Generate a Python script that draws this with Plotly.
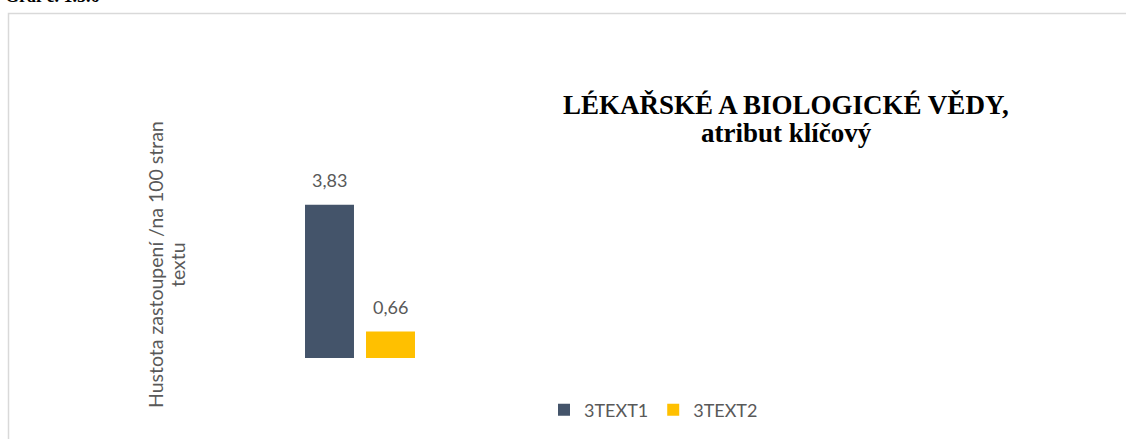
import plotly.graph_objects as go

W, H = 1126, 439

# data
categories = ["LÉKAŘSKÉ A BIOLOGICKÉ VĚDY"]
series_names = ["3TEXT1", "3TEXT2"]
series_values = [[3.83], [0.66]]
series_colors = ["#44546A", "#FFC000"]
value_labels = ["3,83", "0,66"]
title_lines = ["LÉKAŘSKÉ A BIOLOGICKÉ VĚDY,", "atribut klíčový"]
ytitle_lines = ["Hustota zastoupení /na 100 stran", "textu"]

GREY = "#595959"
fig = go.Figure()
for name, vals, color in zip(series_names, series_values, series_colors):
    fig.add_trace(go.Bar(x=categories, y=vals, name=name, marker_color=color,
                         marker_line_width=0, hoverinfo="skip"))

# popisky hodnot nad sloupci
for i, (vals, lab) in enumerate(zip(series_values, value_labels)):
    fig.add_annotation(x=categories[0], y=vals[0], text=lab, showarrow=False,
                       xshift=-30.5 if i == 0 else 30.5, yanchor="bottom", yshift=12,
                       font=dict(family="Lato", size=18, color=GREY))

# osa y - popisek jako otoceny text (dva radky)
for line, px in zip(ytitle_lines, [155, 177]):
    fig.add_annotation(xref="paper", yref="paper", x=px / W, y=1 - 265 / H,
                       text=line, textangle=-90, showarrow=False,
                       xanchor="center", yanchor="middle",
                       font=dict(family="Lato", size=19.5, color=GREY))

# nadpis grafu (dva radky, tesnejsi radkovani)
for line, py in zip(title_lines, [105, 133]):
    fig.add_annotation(xref="paper", yref="paper", x=786 / W, y=1 - py / H,
                       text=f"<b>{line}</b>", showarrow=False,
                       xanchor="center", yanchor="middle",
                       font=dict(family="Liberation Serif", size=27, color="black"))

# cislo grafu nad ramem (oriznute)
fig.add_annotation(xref="paper", yref="paper", x=3 / W, y=1 - 8 / H,
                   text="<b>Graf č. 1.5.6</b>", showarrow=False,
                   xanchor="left", yanchor="bottom",
                   font=dict(family="Liberation Serif", size=18, color="black"))

# ram grafu
fig.add_shape(type="rect", xref="paper", yref="paper",
              x0=8.5 / W, x1=1.05, y0=-0.05, y1=1 - 13.5 / H,
              line=dict(color="#D9D9D9", width=1.5), fillcolor="rgba(0,0,0,0)")

fig.update_layout(
    width=W, height=H,
    margin=dict(l=0, r=0, t=0, b=0),
    paper_bgcolor="white", plot_bgcolor="white",
    barmode="group", bargap=0.5308, bargroupgap=0.197,
    xaxis=dict(domain=[230 / W, 490 / W], visible=False),
    yaxis=dict(domain=[81 / H, 261 / H], range=[0, 4.5], visible=False),
    legend=dict(orientation="h", x=544 / W, xanchor="left", y=1 - 410 / H,
                yanchor="middle", font=dict(family="Lato", size=18, color=GREY),
                itemwidth=30, bgcolor="rgba(0,0,0,0)"),
    font=dict(family="Lato"),
)

fig.write_html("out.html", config={"displayModeBar": False},
               post_script="document.body.style.margin='0';")
